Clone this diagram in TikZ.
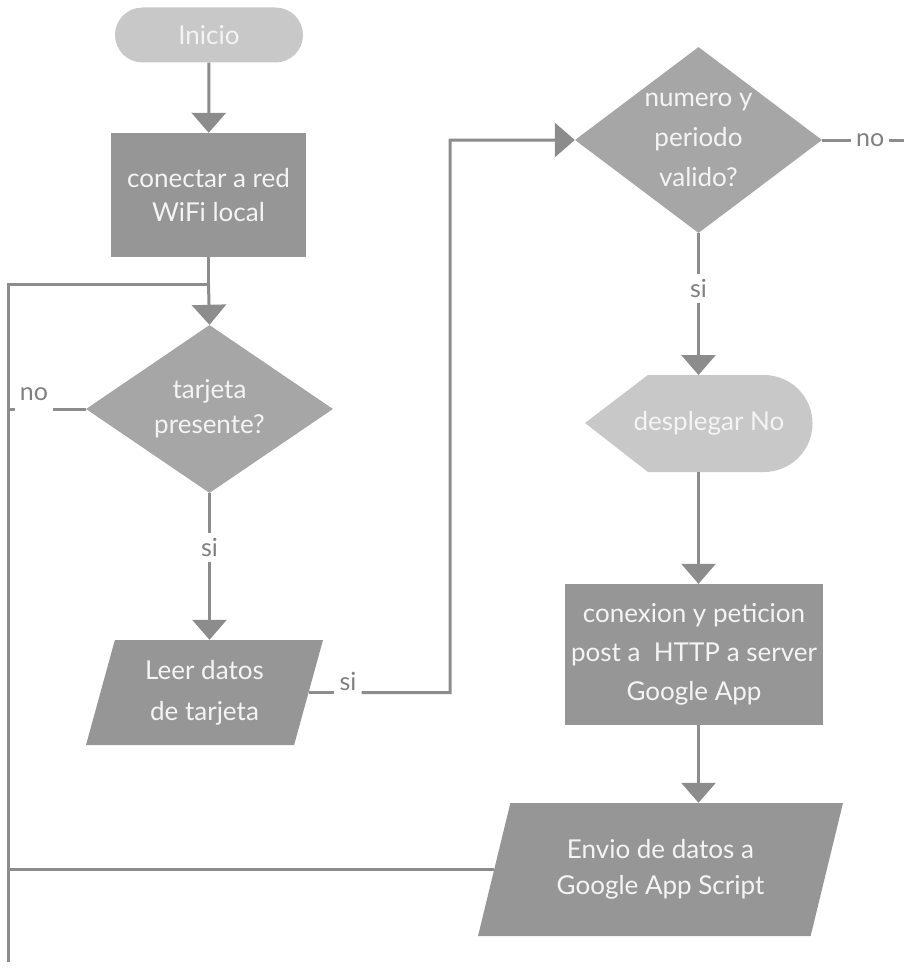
\documentclass[tikz,border=0pt]{standalone}
\usepackage{fontspec}
\setmainfont{Lato}
\usetikzlibrary{shapes.geometric,shapes.misc,arrows.meta}

\definecolor{lnc}{HTML}{8C8C8C}
\definecolor{dk}{HTML}{969696}
\definecolor{md}{HTML}{A6A6A6}
\definecolor{lt}{HTML}{C8C8C8}
\definecolor{lbc}{HTML}{808080}
\definecolor{txt}{HTML}{F4F4F4}

\begin{document}
\begin{tikzpicture}[x=1pt,y=-1pt,
  line/.style={draw=lnc,line width=3pt},
  arr/.style={line,-{Triangle[width=34pt,length=20pt]}},
  txtnode/.style={text=txt,align=center,inner sep=0pt,font=\fontsize{26}{36}\selectfont},
  term/.style={txtnode,rounded rectangle,fill=lt,minimum width=188pt,minimum height=55pt},
  proc/.style={txtnode,rectangle,fill=dk},
  dec/.style={txtnode,diamond,fill=md,aspect=1.4,inner sep=-40pt},
  io/.style={txtnode,trapezium,fill=dk,trapezium stretches body},
  lbl/.style={text=lbc,font=\fontsize{25}{28}\selectfont,inner sep=5pt,fill=white}]
\useasboundingbox (0,0) rectangle (903,971);

% left column
\node[term] (ini) at (209,35) {Inicio};
\node[proc,minimum width=195pt,minimum height=124pt,font=\fontsize{26}{34}\selectfont] (wifi) at (208.5,195) {conectar a red\\WiFi local};
\node[dec,minimum width=247pt,minimum height=168pt,font=\fontsize{26}{35}\selectfont] (tarj) at (209.5,409) {tarjeta\\presente?};
\node[io,trapezium left angle=66,trapezium right angle=114,font=\fontsize{26}{41}\selectfont,
  minimum width=237pt,minimum height=105pt] (leer) at (204.5,692.5) {Leer datos\\de tarjeta};

% right column
\node[dec,minimum width=247pt,minimum height=186pt,font=\fontsize{26}{40}\selectfont] (valid) at (698.5,140) {numero y\\periodo\\valido?};
\fill[lt] (585,423) -- (648,375) -- (764,375) arc[start angle=-90,end angle=90,radius=48.5] -- (648,472) -- cycle;
\node[txtnode,minimum height=97pt] (desp) at (709,423) {desplegar No};
\node[proc,minimum width=258pt,minimum height=141pt,font=\fontsize{26}{39}\selectfont] (http) at (694,654.5) {conexion y peticion\\post a~ HTTP a server\\Google App};
\node[io,trapezium left angle=61.6,trapezium right angle=118.4,
  minimum width=365pt,minimum height=133pt] (envio) at (660.5,869.5) {Envio de datos a\\Google App Script};

% loop back line
\coordinate (lt) at (8,284);
\coordinate (lb) at (8,962);
\coordinate (jn) at (208.5,284);

\draw[arr] (ini) -- (wifi);
\draw[line] (wifi) -- (jn);
\draw[arr] (jn) -- (tarj.north);
\draw[line] (lb) -- (lt) -- (jn);
\draw[arr] (tarj.south) -- node[lbl,pos=.37]{si} (leer.north -| tarj.south);
\node[lbl,fill=none] (no1) at (34,394) {no};
\draw[line] (tarj.west) -- (tarj.west -| no1.east);
\draw[line] (tarj.west -| no1.west) -- (tarj.west -| lt);
\node[lbl,fill=none] (si1) at (348,681) {si};
\draw[line] (leer.east) -- (leer.east -| si1.west);
\draw[arr] (leer.east -| si1.east) -- (450,692.5) |- (valid.west);
\draw[line] (valid.east) -- node[lbl,pos=.58]{no} (905,140);
\draw[arr] (valid.south) -- node[lbl,pos=.39]{si} (698.5,375);
\draw[arr] (698.5,472) -- (http.north -| 698.5,0);
\draw[arr] (http.south -| 698.5,0) -- (envio.north -| 698.5,0);
\draw[line] (envio.west) -- (envio.west -| lt);
\end{tikzpicture}
\end{document}
